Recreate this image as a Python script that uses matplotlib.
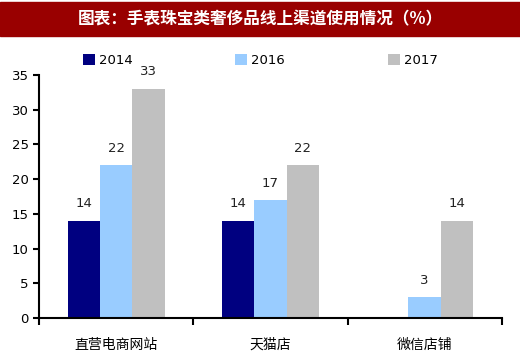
import matplotlib.pyplot as plt
import numpy as np
from matplotlib.patches import Rectangle

plt.rcParams["font.family"] = ["Noto Sans CJK SC", "DejaVu Sans"]

categories = ["直营电商网站", "天猫店", "微信店铺"]
years = ["2014", "2016", "2017"]
values_2014 = [14, 14, None]
values_2016 = [22, 17, 3]
values_2017 = [33, 22, 14]
colors = ["#000080", "#99CCFF", "#C0C0C0"]
title = "图表：手表珠宝类奢侈品线上渠道使用情况（%）"

fig = plt.figure(figsize=(5.2, 3.57), dpi=100)
fig.patches.append(Rectangle((0, 0.9), 1, 0.093, transform=fig.transFigure, color="#990000", zorder=0))
fig.text(0.5, 0.947, title, color="white", fontsize=12, fontweight="bold", ha="center", va="center")

ax = fig.add_axes([0.075, 0.109, 0.89, 0.681])
x = np.arange(len(categories))
width = 0.21
series = [values_2014, values_2016, values_2017]
handles = []
for i, (vals, col) in enumerate(zip(series, colors)):
    xs = [xi + (i - 1) * width for xi, v in zip(x, vals) if v is not None]
    vs = [v for v in vals if v is not None]
    bars = ax.bar(xs, vs, width=width, color=col, label=years[i])
    handles.append(bars)
    for bx, v in zip(xs, vs):
        ax.text(bx, v + 1.5, str(v), ha="center", va="bottom", fontsize=9.5, family="DejaVu Sans", color="#222222")

ax.set_xlim(-0.5, 2.5)
ax.set_ylim(0, 35)
ax.set_yticks(range(0, 36, 5))
ax.set_yticklabels([str(t) for t in range(0, 36, 5)], family="DejaVu Sans")
ax.set_xticks([-0.5, 0.5, 1.5, 2.5])
ax.set_xticklabels([])
ax.set_xticks(x, minor=True)
ax.set_xticklabels(categories, minor=True, fontsize=10)
ax.tick_params(axis="x", which="minor", length=0, pad=14)
ax.tick_params(axis="x", which="major", length=5, width=1.5, direction="out")
ax.tick_params(axis="y", length=4, width=1.5, labelsize=9.5)
for s in ["top", "right"]:
    ax.spines[s].set_visible(False)
for s in ["left", "bottom"]:
    ax.spines[s].set_linewidth(1.5)

ax.legend(handles=handles, loc="upper center", bbox_to_anchor=(0.478, 1.135), ncol=3, frameon=False,
          prop={"family": "DejaVu Sans", "size": 9.5}, handlelength=0.9, handleheight=0.9,
          columnspacing=7.8, handletextpad=0.3)

fig.savefig("out.png", dpi=100)
